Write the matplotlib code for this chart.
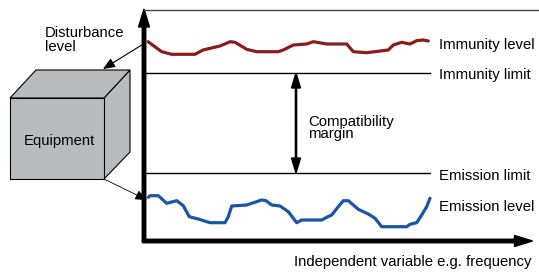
import matplotlib
matplotlib.use("Agg")
import matplotlib.pyplot as plt
from matplotlib.patches import Polygon

plt.rcParams['font.family'] = ['Liberation Sans', 'DejaVu Sans']

# curves (pixel coordinates, y down)
immunity_x = [148, 161.7, 171.7, 195, 203, 220, 230, 235, 246.7, 256.7, 278.3, 283.3, 293.3,
              306.7, 313.3, 326.7, 346.7, 353.3, 366.7, 388.3, 393.3, 401.7, 410, 416.7, 423.3, 428.3]
immunity_y = [41.7, 51.7, 54.3, 54.3, 50, 46, 41.7, 42.3, 49.3, 51.7, 51.7, 50, 45,
              44, 41.7, 44, 44, 51.7, 52.7, 50, 45, 42.3, 44, 40.7, 40, 41]
emission_x = [148.3, 150, 158.3, 166.7, 176.7, 183.3, 189.3, 198.3, 210, 225, 228.3, 231.7,
              246.7, 261.7, 266, 271.7, 280, 288.3, 296.7, 301.7, 321.7, 326.7, 331.7, 338.3,
              343.3, 348.3, 358.3, 368.3, 375, 381.7, 406.7, 410, 416.7, 421.7, 426.7, 430]
emission_y = [197.3, 195.7, 195.7, 203.3, 200.7, 205.7, 216.7, 219, 222.7, 222.7, 216.7, 206,
              205, 200, 200.7, 205, 206, 211.7, 222.7, 220, 220, 217.3, 215, 206.7,
              200.7, 200.7, 209.3, 214, 218.3, 226.7, 226.7, 224.3, 222.7, 215, 206.7, 198.3]
immunity_limit = 73
emission_limit = 173

labels_right = ["Immunity level", "Immunity limit", "Emission limit", "Emission level"]
labels_right_y = [45, 75, 176, 207]

FS = 10.7

fig = plt.figure(figsize=(5.39, 2.72), dpi=100)
ax = fig.add_axes([0, 0, 1, 1])
ax.set_xlim(0, 539)
ax.set_ylim(272, 0)
ax.axis('off')

# top frame line
ax.plot([144, 539], [9.5, 9.5], color='#444444', lw=1.0)

# limit lines
ax.plot([144, 430], [immunity_limit, immunity_limit], color='black', lw=1.0)
ax.plot([144, 430], [emission_limit, emission_limit], color='black', lw=1.0)

# level curves
ax.plot(immunity_x, immunity_y, color='#8b1c1c', lw=2.3, solid_capstyle='round')
ax.plot(emission_x, emission_y, color='#1b55a6', lw=2.3, solid_capstyle='round')

# axes with arrows
ax.arrow(144, 242, 0, -233, width=3.5, head_width=11, head_length=18,
         length_includes_head=True, color='black')
ax.arrow(142.5, 241, 390, 0, width=3.5, head_width=11, head_length=18,
         length_includes_head=True, color='black')

# compatibility margin double arrow
mid = (immunity_limit + emission_limit) / 2
ax.arrow(296, mid, 0, immunity_limit - mid, width=1.2, head_width=9, head_length=15,
         length_includes_head=True, color='black')
ax.arrow(296, mid, 0, emission_limit - mid, width=1.2, head_width=9, head_length=15,
         length_includes_head=True, color='black')
ax.text(308, 128, "Compatibility\nmargin", fontsize=FS, va='center', ha='left',
        linespacing=0.8)

for lab, y in zip(labels_right, labels_right_y):
    ax.text(439, y, lab, fontsize=FS, va='center', ha='left')

ax.text(531, 262, "Independent variable e.g. frequency", fontsize=FS, va='center', ha='right')

# equipment cube
front = [(10, 98), (104, 98), (104, 179), (10, 179)]
top = [(10, 98), (36, 70), (130, 70), (104, 98)]
side = [(104, 98), (130, 70), (130, 152), (104, 179)]
for pts in (side, top, front):
    ax.add_patch(Polygon(pts, closed=True, facecolor='#b9bcbe', edgecolor='black', lw=0.8))
ax.text(59, 141, "Equipment", fontsize=FS, ha='center', va='center')

ax.text(45, 40, "Disturbance\nlevel", fontsize=FS, ha='left', va='center', linespacing=1.0)

# pointer arrows
ax.annotate('', xy=(103, 69), xytext=(145, 43),
            arrowprops=dict(arrowstyle='-|>,head_length=0.6,head_width=0.25', color='black',
                            lw=0.8, shrinkA=0, shrinkB=0, mutation_scale=12))
ax.annotate('', xy=(147, 200), xytext=(104, 179),
            arrowprops=dict(arrowstyle='-|>,head_length=0.6,head_width=0.25', color='black',
                            lw=0.6, shrinkA=0, shrinkB=0, mutation_scale=12))

fig.savefig("out.png", dpi=100)
